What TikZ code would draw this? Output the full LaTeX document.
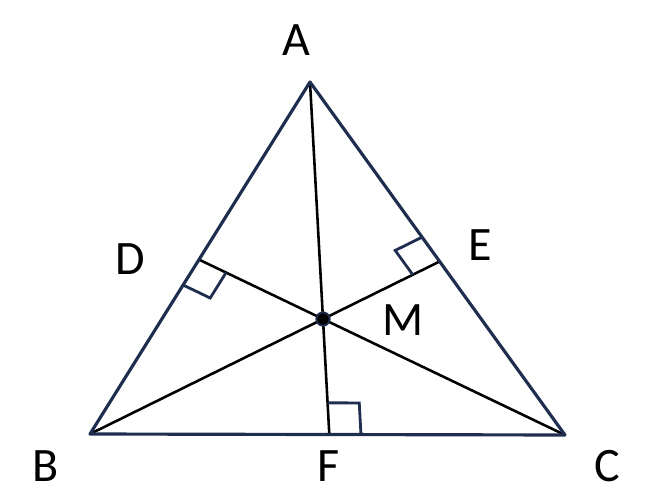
\documentclass[tikz,border=0pt]{standalone}
\usepackage{fontspec}
\setmainfont{Carlito}
\usetikzlibrary{calc}
\definecolor{sideNavy}{HTML}{1F2D4E}
\tikzset{
  side/.style={draw=sideNavy,line width=2.7pt,line join=round},
  cevian/.style={draw=black,line width=2.2pt},
  rightmark/.style={draw=sideNavy,line width=2.4pt,line join=miter},
  vlabel/.style={font=\fontsize{41}{41}\selectfont,inner sep=0pt},
  centre/.style={circle,fill=black,draw=sideNavy,line width=1.6pt,minimum size=0.4cm,inner sep=0pt},
}
\begin{document}
\begin{tikzpicture}[x=0.03cm,y=-0.03cm]
\useasboundingbox (0,0) rectangle (666,500);

% vertices and meeting point
\coordinate (A) at (310,82);
\coordinate (B) at (90,434);
\coordinate (C) at (565,435);
\coordinate (M) at (323,319);

% feet of the lines through M
\coordinate (D) at (intersection of C--M and A--B);
\coordinate (E) at (intersection of B--M and A--C);
\coordinate (F) at (intersection of A--M and B--C);

\draw[cevian] (A) -- (F);
\draw[cevian] (B) -- (E);
\draw[cevian] (C) -- (D);

\draw[side] (A) -- (B) -- (C) -- cycle;

% right angle marks
\coordinate (D1) at ($(D)!0.9cm!(B)$);
\coordinate (D2) at ($(D)!0.9cm!(M)$);
\draw[rightmark] (D1) -- ($(D1)+(D2)-(D)$) -- (D2);
\coordinate (E1) at ($(E)!0.9cm!(A)$);
\coordinate (E2) at ($(E)!0.9cm!(M)$);
\draw[rightmark] (E1) -- ($(E1)+(E2)-(E)$) -- (E2);
\coordinate (F1) at ($(F)!0.95cm!(C)$);
\coordinate (F2) at ($(F)!0.95cm!(A)$);
\draw[rightmark] (F1) -- ($(F1)+(F2)-(F)$) -- (F2);

\node[centre] (Mdot) at (M) {};

% labels
\node[vlabel] (labA) at (296,40) {A};
\node[vlabel] (labB) at (46,466) {B};
\node[vlabel] (labC) at (607,466) {C};
\node[vlabel] (labD) at (130,259) {D};
\node[vlabel] (labE) at (480,245) {E};
\node[vlabel] (labF) at (329,466) {F};
\node[vlabel] (labM) at (403,320) {M};

\end{tikzpicture}
\end{document}
